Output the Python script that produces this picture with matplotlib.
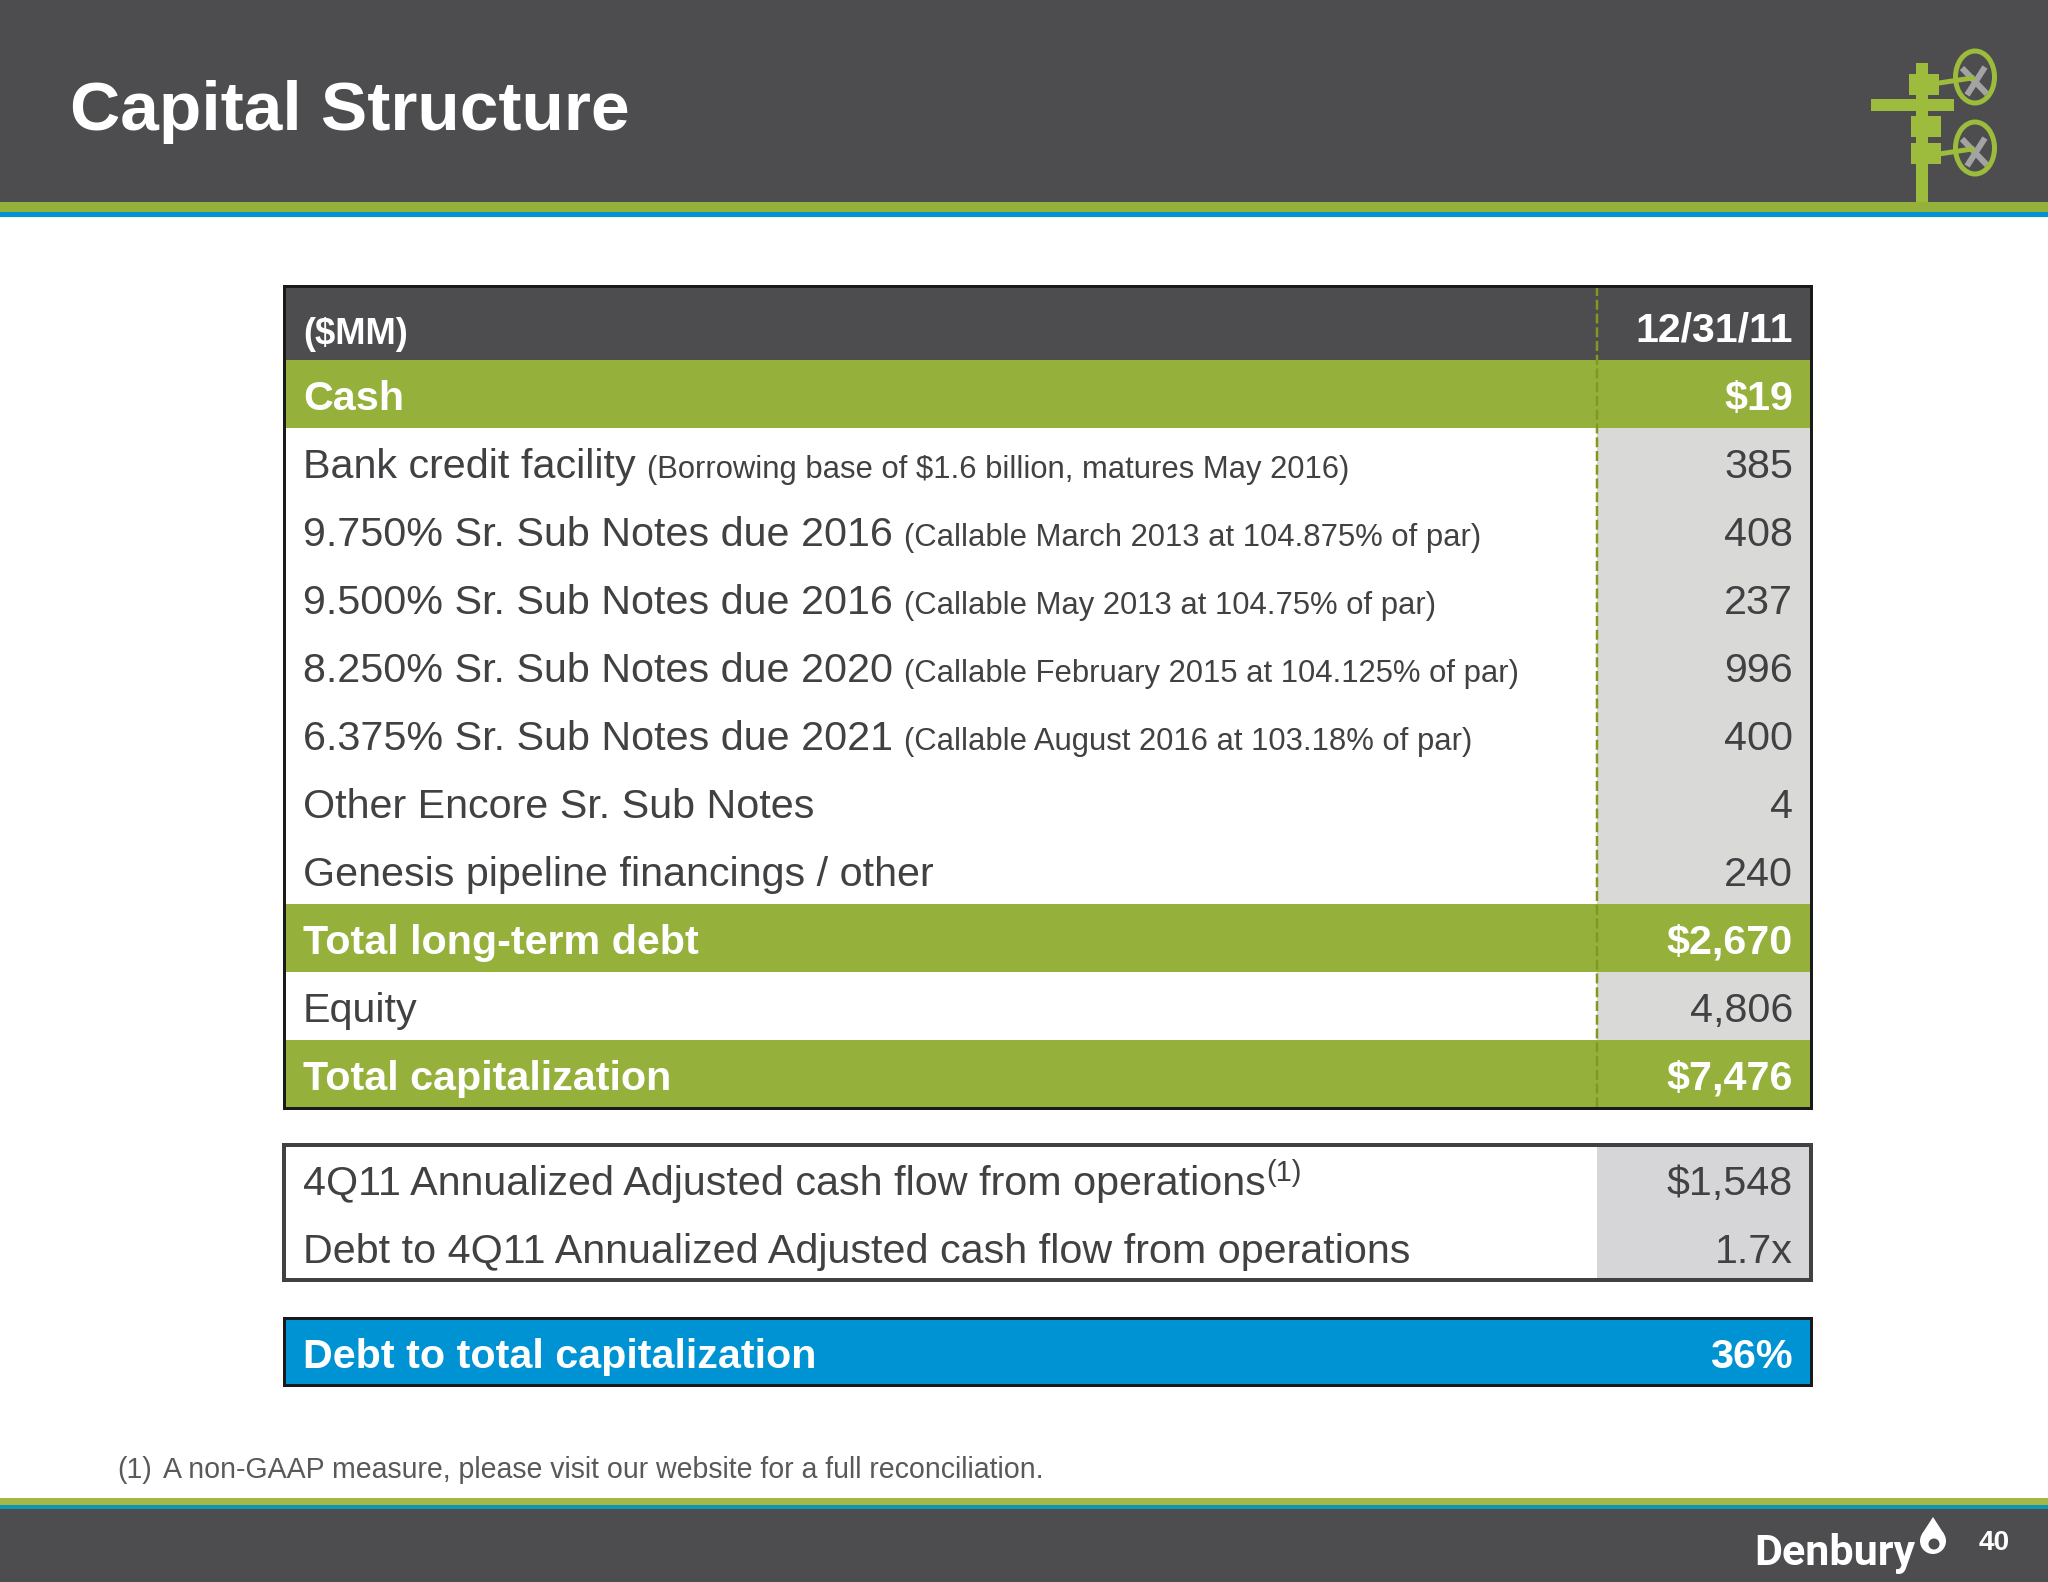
import matplotlib
matplotlib.use("Agg")
import matplotlib.pyplot as plt
from matplotlib.patches import Rectangle, Ellipse, Polygon, Circle

plt.rcParams['font.family'] = ['Liberation Sans', 'DejaVu Sans']

title = "Capital Structure"
header_label = "($MM)"
header_date = "12/31/11"
row_labels = ["Cash", "Bank credit facility", "9.750% Sr. Sub Notes due 2016",
              "9.500% Sr. Sub Notes due 2016", "8.250% Sr. Sub Notes due 2020",
              "6.375% Sr. Sub Notes due 2021", "Other Encore Sr. Sub Notes",
              "Genesis pipeline financings / other", "Total long-term debt",
              "Equity", "Total capitalization"]
row_notes = ["", "(Borrowing base of $1.6 billion, matures May 2016)",
             "(Callable March 2013 at 104.875% of par)",
             "(Callable May 2013 at 104.75% of par)",
             "(Callable February 2015 at 104.125% of par)",
             "(Callable August 2016 at 103.18% of par)", "", "", "", "", ""]
row_values = ["$19", "385", "408", "237", "996", "400", "4", "240", "$2,670", "4,806", "$7,476"]
row_totals = [True, False, False, False, False, False, False, False, True, False, True]
box_labels = ["4Q11 Annualized Adjusted cash flow from operations",
              "Debt to 4Q11 Annualized Adjusted cash flow from operations"]
box_sups = ["(1)", ""]
box_values = ["$1,548", "1.7x"]
ratio_label = "Debt to total capitalization"
ratio_value = "36%"
foot_mark = "(1)"
foot_text = "A non-GAAP measure, please visit our website for a full reconciliation."
page = "40"
brand = "Denbury"

DARK, GREEN, BLUE, TEAL = "#4d4c4e", "#96b03c", "#0093d3", "#0e97b4"
GREY, GREY2, INK, LOGO = "#d9dad8", "#d6d5d8", "#414042", "#9dbb3c"
PX = 72 / 100
L, R, DIV, TX, RX = 284, 1811, 1597, 303, 1793
MAIN, NOTE = 41.3 * PX, 31 * PX

fig = plt.figure(figsize=(20.48, 15.82), dpi=100, facecolor="white")
ax = fig.add_axes([0, 0, 1, 1])
ax.set_xlim(0, 2048); ax.set_ylim(1582, 0); ax.axis("off")

def rect(x0, y0, x1, y1, color, z=1):
    ax.add_patch(Rectangle((x0, y0), x1 - x0, y1 - y0, fc=color, ec="none", zorder=z))

def frame(y0, y1, color, lw):
    ax.add_patch(Rectangle((L, y0), R - L, y1 - y0, fc="none", ec=color, lw=lw * PX, zorder=5))

def write_after(t, text, size, color, gap=0, dy=0):
    bb = t.get_window_extent(fig.canvas.get_renderer())
    return ax.text(bb.x1 + gap, t.get_position()[1] + dy, text, fontsize=size, color=color, va="baseline", zorder=6)

# header / footer bands
rect(0, 0, 2048, 202, DARK)
rect(0, 202, 2048, 212, GREEN)
rect(0, 212, 2048, 217, BLUE)
rect(0, 1498, 2048, 1505, "#a3b845")
rect(0, 1505, 2048, 1509, TEAL)
rect(0, 1509, 2048, 1582, DARK)
ax.text(70, 130, title, fontsize=69.5 * PX, fontweight="bold", color="white", va="baseline", zorder=6)

# wellhead logo
for x0, y0, x1, y1 in [(1916, 63, 1928, 202), (1909, 74, 1939, 95), (1871, 99, 1954, 111),
                       (1911, 116, 1941, 137), (1911, 143, 1941, 164)]:
    rect(x0, y0, x1, y1, LOGO, 3)
for cy in (77, 148):
    ax.plot([1962, 1987], [cy - 9, cy + 17], color="#a3a3a3", lw=6 * PX, solid_capstyle="butt", zorder=3)
    ax.plot([1985, 1967], [cy - 10, cy + 18], color="#a3a3a3", lw=6 * PX, solid_capstyle="butt", zorder=3)
    ax.plot([1939, 1972], [cy + 6, cy + 1], color=LOGO, lw=5 * PX, zorder=4)
    ax.add_patch(Ellipse((1975, cy), 39, 52, fc="none", ec=LOGO, lw=5 * PX, zorder=4))

# main table
top, row_h, head_bottom = 286, 68, 360
rect(L, top, R, head_bottom, DARK)
ax.text(TX, head_bottom - 16, header_label, fontsize=36.4 * PX, fontweight="bold", color="white", va="baseline", zorder=6)
ax.text(RX, head_bottom - 18, header_date, fontsize=41 * PX, fontweight="bold", color="white", va="baseline", ha="right", zorder=6)
for i, (lab, note, val, tot) in enumerate(zip(row_labels, row_notes, row_values, row_totals)):
    y0 = head_bottom + i * row_h
    y1 = y0 + row_h
    if tot:
        rect(L, y0, R, y1, GREEN)
    else:
        rect(DIV, y0, R, y1, GREY)
    color = "white" if tot else INK
    weight = "bold" if tot else "normal"
    t = ax.text(TX, y1 - 18, lab, fontsize=MAIN, fontweight=weight, color=color, va="baseline", zorder=6)
    if note:
        write_after(t, note, NOTE, color, gap=11)
    ax.text(RX, y1 - 18, val, fontsize=MAIN, fontweight=weight, color=color, va="baseline", ha="right", zorder=6)
table_bottom = head_bottom + len(row_labels) * row_h
ax.plot([DIV, DIV], [top, table_bottom], color="#7f9a1e", lw=2.5 * PX, ls=(0, (4, 1.5)), zorder=4)
frame(top, table_bottom, "#1a1a1a", 3)

# cash-flow box
b0, b1 = 1145, 1280
rect(DIV, b0, R, b1, GREY2)
for i, (lab, sup, val) in enumerate(zip(box_labels, box_sups, box_values)):
    y = b0 + 50 + i * row_h
    t = ax.text(TX, y, lab, fontsize=MAIN, color=INK, va="baseline", zorder=6)
    if sup:
        write_after(t, sup, 29 * PX, INK, gap=0, dy=-14)
    ax.text(RX, y, val, fontsize=MAIN, color=INK, va="baseline", ha="right", zorder=6)
frame(b0, b1, "#414042", 4)

# ratio box
c0, c1 = 1318, 1385
rect(L, c0, R, c1, BLUE)
ax.text(TX, c1 - 17, ratio_label, fontsize=MAIN, fontweight="bold", color="white", va="baseline", zorder=6)
ax.text(RX, c1 - 17, ratio_value, fontsize=MAIN, fontweight="bold", color="white", va="baseline", ha="right", zorder=6)
frame(c0, c1, "#1a1a1a", 3)

# footnote
ax.text(117, 1478, foot_mark, fontsize=28.5 * PX, color="#58595b", va="baseline", zorder=6)
ax.text(163, 1478, foot_text, fontsize=28.5 * PX, color="#58595b", va="baseline", zorder=6)

# footer brand
ax.text(1754, 1565, brand, fontsize=43 * PX, fontweight="bold", family=["Roboto", "DejaVu Sans"],
        color="white", va="baseline", zorder=6)
ax.add_patch(Circle((1933, 1541), 13, fc="white", ec="none", zorder=6))
ax.add_patch(Polygon([(1933, 1517), (1922, 1534), (1944, 1534)], fc="white", ec="none", zorder=6))
ax.add_patch(Circle((1934, 1544), 5.5, fc=DARK, ec="none", zorder=7))
ax.text(1994, 1550, page, fontsize=28 * PX, fontweight="bold", color="white", va="baseline", ha="center", zorder=6)

fig.savefig("out.png", dpi=100, facecolor="white")
